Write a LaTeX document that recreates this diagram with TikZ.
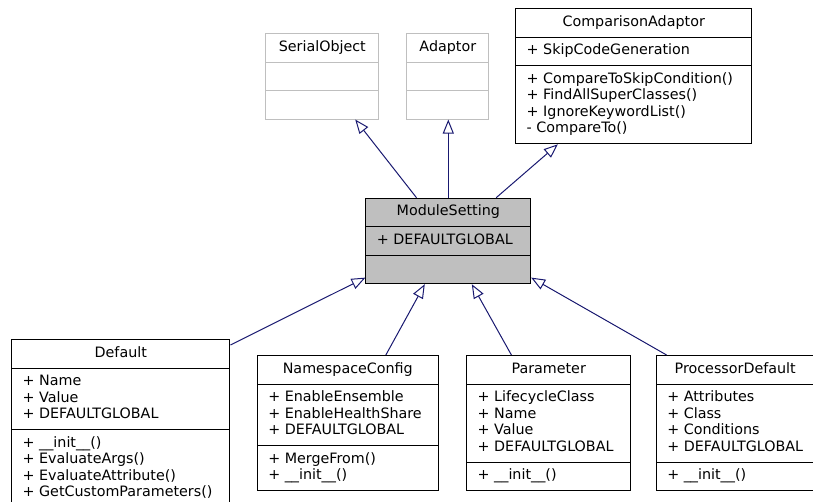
\documentclass[tikz,border=0pt]{standalone}
\usepackage{fontspec}
\setmainfont{DejaVu Sans}
\usetikzlibrary{shapes.multipart,arrows.meta,calc}

\definecolor{kante}{HTML}{191970}
\definecolor{grau}{HTML}{BFBFBF}
\newcommand{\umlfont}{\fontsize{14.3pt}{16.5pt}\selectfont}

\tikzset{
  klasse/.style={rectangle split, rectangle split parts=3, draw=black,
    line width=1pt, fill=white, inner xsep=11pt, inner ysep=5.5pt,
    align=left, anchor=north, font=\umlfont,
    rectangle split part align={center,left,left}},
  extern/.style={klasse, draw=grau},
  erbt/.style={draw=kante, line width=1pt,
    -{Triangle[open,length=14pt,width=11pt]}},
}

\begin{document}
\begin{tikzpicture}[x=1pt,y=-1pt]

  \useasboundingbox (0,0) rectangle (813,501);
  \clip (0,0) rectangle (813,501);

  % Basisklassen
  \node[extern, minimum width=113.3] (serial) at (322.3,33)
    {\strut SerialObject \nodepart{two}\strut \nodepart{three}\strut};

  \node[extern, minimum width=82.3] (adaptor) at (447.8,33)
    {\strut Adaptor \nodepart{two}\strut \nodepart{three}\strut};

  \node[klasse, minimum width=236] (vergleich) at (633.7,8.3)
    {\strut ComparisonAdaptor
     \nodepart{two}\strut + SkipCodeGeneration
     \nodepart{three}\strut + CompareToSkipCondition()\\
     \strut + FindAllSuperClasses()\\
     \strut + IgnoreKeywordList()\\
     \strut - CompareTo()};

  % Modul
  \node[klasse, fill=grau, minimum width=164.7] (modul) at (448.3,197.7)
    {\strut ModuleSetting
     \nodepart{two}\strut + DEFAULTGLOBAL
     \nodepart{three}\strut};

  % abgeleitete Klassen
  \node[klasse, minimum width=218.3] (default) at (120.8,339)
    {\strut Default
     \nodepart{two}\strut + Name\\
     \strut + Value\\
     \strut + DEFAULTGLOBAL
     \nodepart{three}\strut + \_\_init\_\_()\\
     \strut + EvaluateArgs()\\
     \strut + EvaluateAttribute()\\
     \strut + GetCustomParameters()};

  \node[klasse, minimum width=181] (namespace) at (347.8,355)
    {\strut NamespaceConfig
     \nodepart{two}\strut + EnableEnsemble\\
     \strut + EnableHealthShare\\
     \strut + DEFAULTGLOBAL
     \nodepart{three}\strut + MergeFrom()\\
     \strut + \_\_init\_\_()};

  \node[klasse, minimum width=164] (parameter) at (548.7,355)
    {\strut Parameter
     \nodepart{two}\strut + LifecycleClass\\
     \strut + Name\\
     \strut + Value\\
     \strut + DEFAULTGLOBAL
     \nodepart{three}\strut + \_\_init\_\_()};

  \node[klasse, minimum width=155] (processor) at (735.2,355)
    {\strut ProcessorDefault
     \nodepart{two}\strut + Attributes\\
     \strut + Class\\
     \strut + Conditions\\
     \strut + DEFAULTGLOBAL
     \nodepart{three}\strut + \_\_init\_\_()};

  % Vererbung nach oben
  \draw[erbt] ($(modul.north west)!0.308!(modul.north east)$) --
    ($(serial.south west)!0.788!(serial.south east)$);
  \draw[erbt] (modul.north) -- (modul.north |- adaptor.south);
  \draw[erbt] ($(modul.north west)!0.789!(modul.north east)$) --
    ($(vergleich.south west)!0.18!(vergleich.south east)$);

  % Vererbung von unten
  \draw[erbt] ($(default.north east)+(0,6)$) --
    ($(modul.south west)+(0,-6.6)$);
  \draw[erbt] ($(namespace.north west)!0.709!(namespace.north east)$) --
    ($(modul.south west)!0.358!(modul.south east)$);
  \draw[erbt] ($(parameter.north west)!0.274!(parameter.north east)$) --
    ($(modul.south west)!0.642!(modul.south east)$);
  \draw[erbt] ($(processor.north west)!0.068!(processor.north east)$) --
    ($(modul.south east)+(0,-6.6)$);

\end{tikzpicture}
\end{document}
